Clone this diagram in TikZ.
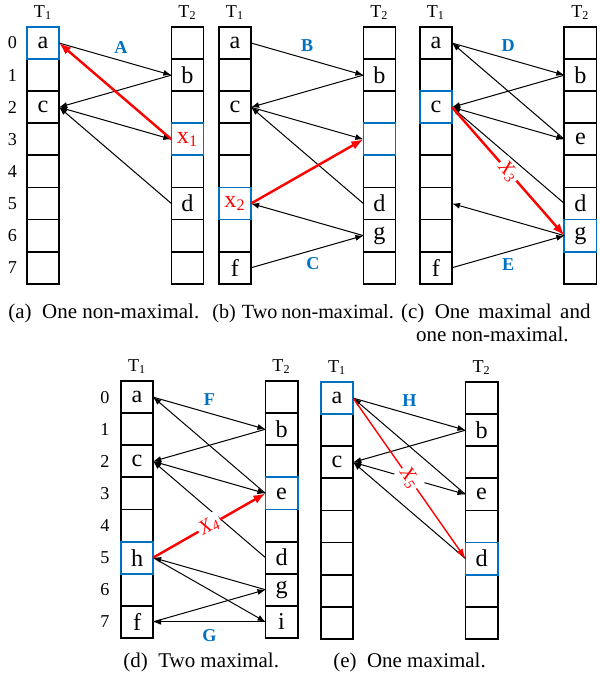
\documentclass[tikz,border=0pt]{standalone}
\usepackage{fontspec}
\setmainfont{Liberation Serif}
\usetikzlibrary{arrows.meta}
\definecolor{ublue}{RGB}{0,112,192}
\tikzset{
	cell/.style={draw, line width=0.9pt, minimum width=0.56cm, minimum height=0.56cm, inner sep=0pt, outer sep=0pt, font=\fontsize{12}{14}\selectfont},
	hl/.style={draw=ublue, line width=0.9pt},
	colhead/.style={font=\fontsize{9}{11}\selectfont},
	link/.style={->, line width=0.5pt},
	flow/.style={-{Latex[length=6pt,width=4.5pt]}, red, line width=1.2pt},
	tag/.style={text=ublue, font=\fontsize{9}{11}\selectfont\bfseries},
	xlab/.style={midway, sloped, fill=white, inner sep=1pt, text=red, font=\fontsize{10}{12}\selectfont\itshape},
	capt/.style={anchor=base west, inner sep=0pt, font=\fontsize{10.4}{12}\selectfont},
	>={Latex[length=4pt,width=3pt]}
}
\newcommand{\rx}[1]{\textcolor{red}{x\textsubscript{#1}}}
\begin{document}
\begin{tikzpicture}[x=0.56cm, y=0.56cm]
	\useasboundingbox (0,0) rectangle (18.66,-21.15);
	% (a) one non-maximal
	\begin{scope}[shift={(0.84,-0.84)}]
		\node[colhead] (aT1) at (0.5,0.44) {T\textsubscript{1}};
		\node[colhead] (aT2) at (5,0.44) {T\textsubscript{2}};
		\foreach \i in {0,...,7} \node[colhead] (an\i) at (-0.45,-\i-0.5) {\i};
		\foreach \i/\t in {0/a,1/{},2/c,3/{},4/{},5/{},6/{},7/{}} \node[cell] (aL\i) at (0.5,-\i-0.5) {\t};
		\foreach \i/\t in {0/{},1/b,2/{},3/{\rx{1}},4/{},5/d,6/{},7/{}} \node[cell] (aR\i) at (5,-\i-0.5) {\t};
		\draw[hl] (aL0.south west) rectangle (aL0.north east);
		\draw[hl] (aR3.south west) rectangle (aR3.north east);
		\draw[link] (aL0.east) -- node[tag, above, pos=0.55] {A} (aR1.west);
		\draw[link] (aR1.west) -- (aL2.east);
		\draw[link, <->] (aL2.east) -- (aR3.west);
		\draw[link] (aR5.west) -- (aL2.east);
		\draw[flow] (aR3.west) -- (aL0.east);
	\end{scope}
	% (b) two non-maximal
	\begin{scope}[shift={(6.82,-0.84)}]
		\node[colhead] (bT1) at (0.5,0.44) {T\textsubscript{1}};
		\node[colhead] (bT2) at (5,0.44) {T\textsubscript{2}};
		\foreach \i/\t in {0/a,1/{},2/c,3/{},4/{},5/{\rx{2}},6/{},7/f} \node[cell] (bL\i) at (0.5,-\i-0.5) {\t};
		\foreach \i/\t in {0/{},1/b,2/{},3/{},4/{},5/d,6/g,7/{}} \node[cell] (bR\i) at (5,-\i-0.5) {\t};
		\draw[hl] (bL5.south west) rectangle (bL5.north east);
		\draw[hl] (bR3.south west) rectangle (bR3.north east);
		\draw[link] (bL0.east) -- node[tag, above] {B} (bR1.west);
		\draw[link] (bR1.west) -- (bL2.east);
		\draw[link] (bL2.east) -- (bR3.west);
		\draw[link] (bR5.west) -- (bL2.east);
		\draw[link] (bR6.west) -- (bL5.east);
		\draw[link] (bL7.east) -- node[tag, below, pos=0.55] {C} (bR6.west);
		\draw[flow] (bL5.east) -- (bR3.west);
	\end{scope}
	% (c) one maximal and one non-maximal
	\begin{scope}[shift={(13.08,-0.84)}]
		\node[colhead] (cT1) at (0.5,0.44) {T\textsubscript{1}};
		\node[colhead] (cT2) at (5,0.44) {T\textsubscript{2}};
		\foreach \i/\t in {0/a,1/{},2/c,3/{},4/{},5/{},6/{},7/f} \node[cell] (cL\i) at (0.5,-\i-0.5) {\t};
		\foreach \i/\t in {0/{},1/b,2/{},3/e,4/{},5/d,6/g,7/{}} \node[cell] (cR\i) at (5,-\i-0.5) {\t};
		\draw[hl] (cL2.south west) rectangle (cL2.north east);
		\draw[hl] (cR6.south west) rectangle (cR6.north east);
		\draw[link] (cL0.east) -- node[tag, above] {D} (cR1.west);
		\draw[link] (cR3.west) -- (cL0.east);
		\draw[link] (cR1.west) -- (cL2.east);
		\draw[link, <->] (cL2.east) -- (cR3.west);
		\draw[link] (cR5.west) -- (cL2.east);
		\draw[link] (cR6.west) -- (cL5.east);
		\draw[link] (cL7.east) -- node[tag, below] {E} (cR6.west);
		\draw[flow] (cL2.east) -- node[xlab] {X\textsubscript{3}} (cR6.west);
	\end{scope}
	% (d) two maximal
	\begin{scope}[shift={(3.77,-11.87)}]
		\node[colhead] (dT1) at (0.5,0.44) {T\textsubscript{1}};
		\node[colhead] (dT2) at (5,0.44) {T\textsubscript{2}};
		\foreach \i in {0,...,7} \node[colhead] (dn\i) at (-0.5,-\i-0.5) {\i};
		\foreach \i/\t in {0/a,1/{},2/c,3/{},4/{},5/h,6/{},7/f} \node[cell] (dL\i) at (0.5,-\i-0.5) {\t};
		\foreach \i/\t in {0/{},1/b,2/{},3/e,4/{},5/d,6/g,7/i} \node[cell] (dR\i) at (5,-\i-0.5) {\t};
		\draw[hl] (dL5.south west) rectangle (dL5.north east);
		\draw[hl] (dR3.south west) rectangle (dR3.north east);
		\draw[link] (dL0.east) -- node[tag, above] {F} (dR1.west);
		\draw[link] (dR3.west) -- (dL0.east);
		\draw[link] (dR1.west) -- (dL2.east);
		\draw[link, <->] (dL2.east) -- (dR3.west);
		\draw[link] (dR5.west) -- (dL2.east);
		\draw[link] (dR6.west) -- (dL5.east);
		\draw[link] (dL5.east) -- (dR7.west);
		\draw[link] (dL7.east) -- (dR6.west);
		\draw[link] (dR7.west) -- node[tag, below] {G} (dL7.east);
		\draw[flow] (dL5.east) -- node[xlab] {X\textsubscript{4}} (dR3.west);
	\end{scope}
	% (e) one maximal
	\begin{scope}[shift={(10.0,-11.9)}]
		\node[colhead] (eT1) at (0.5,0.44) {T\textsubscript{1}};
		\node[colhead] (eT2) at (5,0.44) {T\textsubscript{2}};
		\foreach \i/\t in {0/a,1/{},2/c,3/{},4/{},5/{},6/{},7/{}} \node[cell] (eL\i) at (0.5,-\i-0.5) {\t};
		\foreach \i/\t in {0/{},1/b,2/{},3/e,4/{},5/d,6/{},7/{}} \node[cell] (eR\i) at (5,-\i-0.5) {\t};
		\draw[hl] (eL0.south west) rectangle (eL0.north east);
		\draw[hl] (eR5.south west) rectangle (eR5.north east);
		\draw[link] (eL0.east) -- node[tag, above] {H} (eR1.west);
		\draw[link] (eR3.west) -- (eL0.east);
		\draw[link] (eR1.west) -- (eL2.east);
		\draw[link, <->] (eL2.east) -- (eR3.west);
		\draw[link] (eR5.west) -- (eL2.east);
		\draw[flow, line width=0.7pt, -{Latex[length=5pt,width=3.5pt]}] (eL0.east) -- node[xlab] {X\textsubscript{5}} (eR5.west);
	\end{scope}
	% captions
	\node[capt] (capa) at (0.25,-9.91) {(a)\enspace One non-maximal.};
	\node[capt] (capb) at (6.6,-9.91) {\fontsize{10}{12}\selectfont(b)\hspace{3pt}Two\hspace{2pt}non-maximal.};
	\node[capt] (capc) at (12.48,-9.91) {\makebox[94pt][s]{(c)\enspace One maximal and}};
	\node[capt] (capc2) at (12.95,-10.65) {one non-maximal.};
	\node[capt] (capd) at (3.83,-20.78) {(d)\enspace Two maximal.};
	\node[capt] (cape) at (10.37,-20.78) {(e)\enspace One maximal.};
\end{tikzpicture}
\end{document}
